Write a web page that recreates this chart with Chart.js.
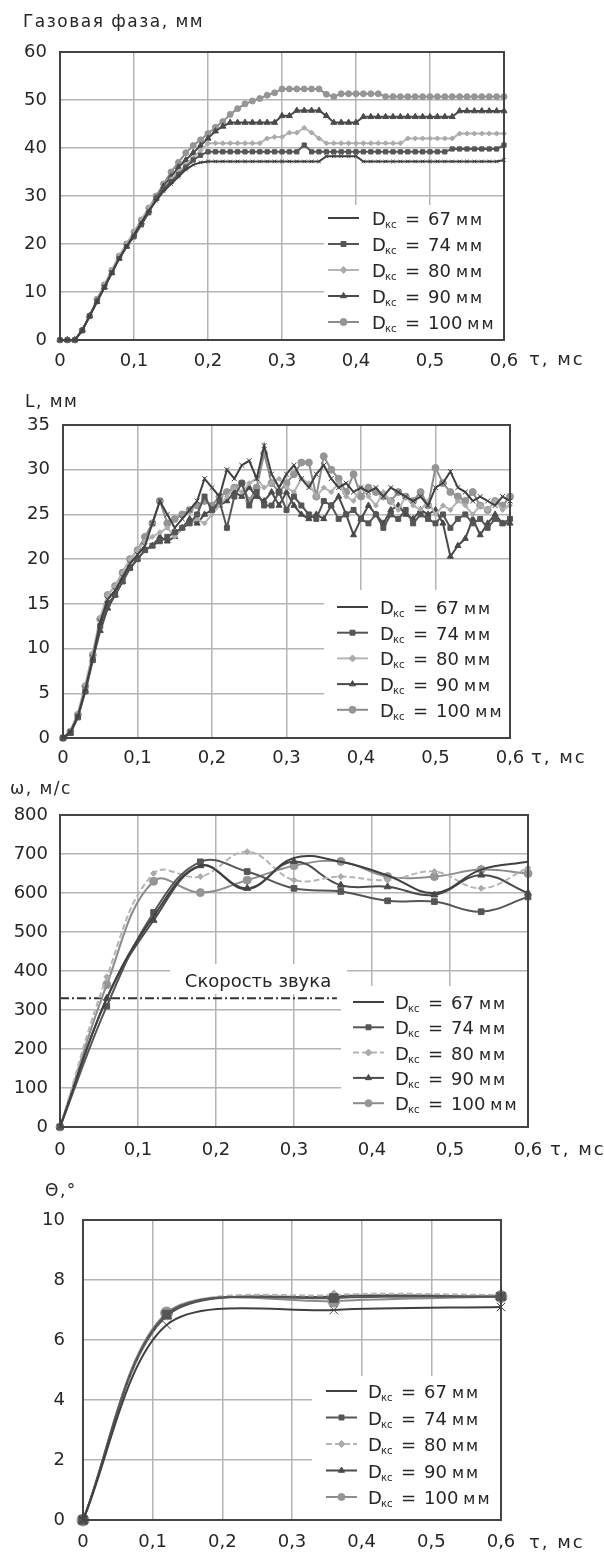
<!DOCTYPE html>
<html>
<head>
<meta charset="utf-8">
<script src="https://cdn.jsdelivr.net/npm/chart.js@4/dist/chart.umd.min.js"></script>
<style>
  body { margin: 0; background: #fff; width: 604px; height: 1557px; position: relative; overflow: hidden; }
  canvas { position: absolute; left: 0; }
</style>
</head>
<body>
<canvas id="cGas" width="604" height="385" style="top:0px"></canvas>
<canvas id="cLen" width="604" height="390" style="top:385px"></canvas>
<canvas id="cOmega" width="604" height="395" style="top:775px"></canvas>
<canvas id="cTheta" width="604" height="387" style="top:1170px"></canvas>
<script>
// --- data ---
const diameters = ['67', '74', '80', '90', '100'];

const tauTicks = [0, 0.1, 0.2, 0.3, 0.4, 0.5, 0.6];
const tauTickLabels = ['0', '0,1', '0,2', '0,3', '0,4', '0,5', '0,6'];

const gasTicks = [0, 10, 20, 30, 40, 50, 60];
const lenTicks = [0, 5, 10, 15, 20, 25, 30, 35];
const omegaTicks = [0, 100, 200, 300, 400, 500, 600, 700, 800];
const thetaTicks = [0, 2, 4, 6, 8, 10];

// time steps of the two upper panels, ms
const tauFine = [0, 0.01, 0.02, 0.03, 0.04, 0.05, 0.06, 0.07, 0.08, 0.09,
  0.1, 0.11, 0.12, 0.13, 0.14, 0.15, 0.16, 0.17, 0.18, 0.19,
  0.2, 0.21, 0.22, 0.23, 0.24, 0.25, 0.26, 0.27, 0.28, 0.29,
  0.3, 0.31, 0.32, 0.33, 0.34, 0.35, 0.36, 0.37, 0.38, 0.39,
  0.4, 0.41, 0.42, 0.43, 0.44, 0.45, 0.46, 0.47, 0.48, 0.49,
  0.5, 0.51, 0.52, 0.53, 0.54, 0.55, 0.56, 0.57, 0.58, 0.59, 0.6];

// panel 1: gas phase, mm
const gas67 = [0, 0, 0, 2, 5, 8, 11, 14, 17, 19.5, 22, 24.5, 27,
  29, 31, 32.5, 34, 35.5, 36.5, 37,
  37.2, 37.2, 37.2, 37.2, 37.2, 37.2, 37.2, 37.2, 37.2, 37.2, 37.2, 37.2, 37.2, 37.2, 37.2, 37.2,
  38.3, 38.3, 38.3, 38.3, 38.3,
  37.2, 37.2, 37.2, 37.2, 37.2, 37.2, 37.2, 37.2, 37.2, 37.2, 37.2, 37.2, 37.2, 37.2, 37.2, 37.2, 37.2, 37.2, 37.2, 37.5];
const gas74 = [0, 0, 0, 2, 5, 8, 11, 14, 17, 19.5, 21.5, 24, 26.5,
  29.5, 31.5, 33, 34.5, 36, 37.5, 38.5,
  39.2, 39.2, 39.2, 39.2, 39.2, 39.2, 39.2, 39.2, 39.2, 39.2, 39.2, 39.2, 39.2,
  40.6,
  39.2, 39.2, 39.2, 39.2, 39.2, 39.2, 39.2, 39.2, 39.2, 39.2, 39.2, 39.2, 39.2, 39.2, 39.2, 39.2, 39.2, 39.2, 39.2,
  39.8, 39.8, 39.8, 39.8, 39.8, 39.8, 39.8,
  40.6];
const gas80 = [0, 0, 0, 2, 5, 8, 11.5, 14.5, 17.5, 20, 22.5, 25, 27.5,
  29.5, 31.5, 33.5, 35, 36.5, 38, 39.5, 41,
  41, 41, 41, 41, 41, 41, 41,
  42, 42.3, 42.3, 43.2, 43.2, 44.2, 43.2, 42,
  41, 41, 41, 41, 41, 41, 41, 41, 41, 41, 41,
  42, 42, 42, 42, 42, 42, 42,
  43, 43, 43, 43, 43, 43, 43];
const gas90 = [0, 0, 0, 2, 5, 8, 11, 14, 17, 19.5, 22, 24.5, 27,
  29.5, 32, 34, 36, 37.5, 39, 40.5, 42, 43.5, 44.5, 45.3,
  45.3, 45.3, 45.3, 45.3, 45.3, 45.3,
  46.7, 46.7, 47.8, 47.8, 47.8, 47.8, 46.7,
  45.3, 45.3, 45.3, 45.3,
  46.5, 46.5, 46.5, 46.5, 46.5, 46.5, 46.5, 46.5, 46.5, 46.5, 46.5, 46.5, 46.5,
  47.7, 47.7, 47.7, 47.7, 47.7, 47.7, 47.7];
const gas100 = [0, 0, 0, 2, 5, 8.5, 11.5, 14.5, 17.5, 20, 22.5, 25, 27.5,
  30, 32.5, 35, 37, 39, 40.5, 41.7, 43, 44.3, 45.5, 47, 48.2, 49.2, 49.8, 50.3, 51, 51.5,
  52.3, 52.3, 52.3, 52.3, 52.3, 52.3,
  51.2, 50.7,
  51.3, 51.3, 51.3, 51.3, 51.3, 51.3,
  50.7, 50.7, 50.7, 50.7, 50.7, 50.7, 50.7, 50.7, 50.7, 50.7, 50.7, 50.7, 50.7, 50.7, 50.7, 50.7, 50.7];

// panel 2: L, mm
const len67 = [0, 0.7, 2.5, 5.5, 9, 13, 15.5, 16.5, 18, 19.5, 20.5, 21.5,
  24, 26.5, 25, 23.5, 24.5, 25.5, 26.5, 29, 28, 27,
  30, 29, 30.5, 31, 29, 32.7, 29.5, 28, 29.5, 30.5,
  29, 28, 29.5, 30.5, 29, 28, 28.5, 27.5, 28, 27.5,
  28, 27, 28, 27.5, 27, 26.5, 27, 26, 28, 28.5,
  29.8, 28, 27.5, 26.5, 27, 26.5, 26, 27, 26.5];
const len74 = [0, 0.6, 2.3, 5.2, 8.7, 12.5, 15, 16, 17.5, 19, 20, 21,
  21.5, 22, 22.5, 23, 23.5, 24, 25, 27, 25.5, 26.5,
  23.5, 27, 28.5, 26, 27.5, 26, 26, 27.5, 25.5, 27,
  26, 25, 24.5, 26.5, 26, 24.5, 25, 25.5, 24.5, 24,
  25, 23.5, 25, 24.5, 25.5, 24, 25, 24.5, 24, 25,
  23.5, 24.5, 25, 24, 24.5, 23.5, 24.5, 24, 24.5];
const len80 = [0, 0.8, 2.8, 6, 9.5, 13.5, 16, 17, 18.5, 20, 21, 22,
  22.5, 23, 23.5, 22.5, 23.5, 24, 24.5, 24, 25, 26,
  27, 28, 27.5, 28.5, 29, 28, 28.5, 29, 28, 27.5,
  29, 28.5, 27, 28, 27.5, 28.5, 27, 26.5, 28, 27,
  26, 27.5, 26.5, 25.5, 27, 26, 25.5, 26.5, 25, 26,
  25.5, 26.5, 26, 25, 26, 25.5, 26.5, 25.5, 26];
const len90 = [0, 0.5, 2.4, 5.3, 8.8, 12, 14.5, 16, 17.5, 19, 20, 21,
  21.5, 22.5, 22, 22.5, 23.5, 24.5, 24, 25, 25.5, 26,
  26.5, 27.5, 27, 28, 27, 26.5, 27.5, 26, 27.5, 26,
  25, 24.5, 25, 24.5, 26, 27, 25, 22.7, 24.5, 26,
  25, 24, 25.5, 26, 25, 24.5, 25.5, 25, 25.5, 24,
  20.3, 21.5, 22.3, 24.5, 22.7, 24, 25, 24, 24];
const len100 = [0, 0.7, 2.6, 5.8, 9.3, 13.3, 16, 17, 18.5, 20, 21, 22.5,
  24, 26.5, 24, 24.5, 25, 25.5, 26, 26.5, 26, 27,
  27.5, 28, 28.5, 26.5, 28, 31.8, 28.5, 27.5, 28.5, 29.5,
  30.8, 30.8, 27, 31.5, 30, 29, 27.5, 29.5, 27, 28,
  27.5, 27, 26.5, 27.5, 27, 26.5, 27.5, 26, 30.2, 28.5,
  27.5, 27, 26.5, 27.5, 26, 25.5, 26.5, 26, 27];

// panel 3: omega, m/s
const tauOmega = [0, 0.06, 0.12, 0.18, 0.24, 0.3, 0.36, 0.42, 0.48, 0.54, 0.6];
const omega67 = [0, 330, 540, 670, 610, 690, 680, 645, 600, 660, 680];
const omega74 = [0, 310, 550, 680, 655, 612, 604, 580, 578, 552, 590];
const omega80 = [0, 385, 650, 642, 706, 633, 642, 633, 655, 612, 664];
const omega90 = [0, 330, 530, 670, 612, 681, 620, 616, 595, 646, 600];
const omega100 = [0, 365, 630, 601, 633, 670, 681, 642, 642, 660, 650];
const soundSpeed = 330;
const soundTau = [0, 0.355];

// panel 4: theta, deg
const tauTheta = [0, 0.12, 0.36, 0.6];
const theta67 = [0, 6.5, 7.0, 7.1];
const theta74 = [0, 6.85, 7.4, 7.45];
const theta80 = [0, 6.85, 7.5, 7.5];
const theta90 = [0, 6.8, 7.45, 7.45];
const theta100 = [0, 6.9, 7.3, 7.45];

// --- styles ---
const lineColors = ['#404040', '#555555', '#b5b5b5', '#4a4a4a', '#8c8c8c'];
const markerFills = ['#404040', '#555555', '#ababab', '#4a4a4a', '#959595'];
const markerStyles = ['crossRot', 'rect', 'rectRot', 'triangle', 'circle'];
const legendMarks = [false, true, true, true, true];
const FONT = '"DejaVu Sans", "Liberation Sans", sans-serif';
const TEXT = '#262626';

function makeSeries(tau, vals, k, st) {
  return {
    label: 'Dкс = ' + diameters[k] + ' мм',
    data: tau.map((t, i) => ({ x: t, y: vals[i] })),
    borderColor: lineColors[k],
    borderWidth: 2,
    borderDash: (st.dashed && k === 2) ? [6, 3] : [],
    pointStyle: markerStyles[k],
    pointRadius: st.radius[k],
    pointBackgroundColor: markerFills[k],
    pointBorderColor: markerFills[k],
    pointBorderWidth: 1,
    tension: st.tension,
    clip: false
  };
}

const decorPlugin = {
  id: 'decor',
  beforeDatasetsDraw(chart, args, o) {
    const a = chart.chartArea, ctx = chart.ctx;
    ctx.save();
    ctx.fillStyle = '#fff';
    ctx.fillRect(o.legend.x, o.legend.y, a.right - o.legend.x, a.bottom - o.legend.y);
    if (o.note) ctx.fillRect(o.note.x0, o.note.y0, o.note.x1 - o.note.x0, o.note.y1 - o.note.y0);
    ctx.restore();
  },
  afterDatasetsDraw(chart, args, o) {
    const a = chart.chartArea, ctx = chart.ctx;
    ctx.save();
    ctx.strokeStyle = '#444444';
    ctx.lineWidth = 2;
    ctx.strokeRect(a.left, a.top, a.right - a.left, a.bottom - a.top);

    // legend
    const L = o.legend;
    ctx.textAlign = 'left';
    ctx.textBaseline = 'alphabetic';
    diameters.forEach((d, k) => {
      const ds = chart.data.datasets[k];
      const y = L.rowY + k * L.step;
      ctx.setLineDash(ds.borderDash);
      ctx.strokeStyle = ds.borderColor;
      ctx.lineWidth = 2;
      ctx.beginPath();
      ctx.moveTo(L.lineX, y);
      ctx.lineTo(L.lineX + 31, y);
      ctx.stroke();
      ctx.setLineDash([]);
      if (legendMarks[k]) {
        ctx.fillStyle = ds.pointBackgroundColor;
        ctx.strokeStyle = ds.pointBorderColor;
        ctx.lineWidth = 1;
        Chart.helpers.drawPoint(ctx, { pointStyle: ds.pointStyle, radius: 3.5, rotation: 0, borderWidth: 1 }, L.lineX + 15.5, y);
      }
      ctx.fillStyle = TEXT;
      ctx.font = '18px ' + FONT;
      ctx.fillText('D', L.textX, y + 7);
      ctx.font = '10px ' + FONT;
      ctx.fillText('кс', L.textX + 13, y + 10);
      ctx.font = '18px ' + FONT;
      ctx.fillText('=', L.textX + 33, y + 7);
      ctx.fillText(d, L.textX + 56, y + 7);
      const w = ctx.measureText(d).width;
      ctx.font = '16px ' + FONT;
      ctx.letterSpacing = '2px';
      ctx.fillText('мм', L.textX + 61 + w, y + 7);
      ctx.letterSpacing = '0px';
    });

    // axis captions
    ctx.fillStyle = TEXT;
    ctx.textBaseline = 'middle';
    ctx.font = '17px ' + FONT;
    ctx.letterSpacing = '1.5px';
    ctx.fillText(o.title.text, o.title.x, o.title.y);
    ctx.font = '18px ' + FONT;
    ctx.letterSpacing = '2px';
    ctx.fillText('τ, мс', o.unit.x, o.unit.y);
    ctx.letterSpacing = '0px';
    if (o.note) {
      ctx.textAlign = 'center';
      ctx.font = '18px ' + FONT;
      ctx.fillText(o.note.text, o.note.cx, o.note.cy);
    }
    ctx.restore();
  }
};
Chart.register(decorPlugin);

function panelOptions(p) {
  const tickFont = { family: FONT, size: 18 };
  return {
    responsive: false,
    animation: false,
    devicePixelRatio: 1,
    layout: { padding: p.padding },
    plugins: {
      legend: { display: false },
      tooltip: { enabled: false },
      title: { display: false },
      decor: p.decor
    },
    scales: {
      x: {
        type: 'linear', min: 0, max: 0.6,
        afterFit: s => { s.height = 30; },
        afterBuildTicks: s => { s.ticks = tauTicks.map(v => ({ value: v })); },
        ticks: { callback: (v, i) => tauTickLabels[i], font: tickFont, color: TEXT, padding: p.xPad, maxRotation: 0, autoSkip: false },
        grid: { color: '#b4b4b4', lineWidth: 1.5, drawTicks: false },
        border: { display: false }
      },
      y: {
        type: 'linear', min: 0, max: p.yTicks[p.yTicks.length - 1],
        afterFit: s => { s.width = p.yWidth; },
        afterBuildTicks: s => { s.ticks = p.yTicks.map(v => ({ value: v })); },
        ticks: { callback: v => String(v), font: tickFont, color: TEXT, padding: p.yPad, autoSkip: false },
        grid: { color: '#b4b4b4', lineWidth: 1.5, drawTicks: false },
        border: { display: false }
      }
    }
  };
}

// panel 1
const gasStyle = { radius: [2.5, 3, 2.5, 3.5, 3], tension: 0, dashed: false };
new Chart(document.getElementById('cGas'), {
  type: 'line',
  data: { datasets: [gas67, gas74, gas80, gas90, gas100].map((v, k) => makeSeries(tauFine, v, k, gasStyle)) },
  options: panelOptions({
    padding: { left: 0, right: 100, top: 52, bottom: 15 },
    yWidth: 60, yPad: 13, xPad: 11, yTicks: gasTicks,
    decor: {
      title: { text: 'Газовая фаза, мм', x: 23, y: 23 },
      unit: { x: 529, y: 360 },
      legend: { x: 324, y: 205, rowY: 218, step: 26, lineX: 328, textX: 372 }
    }
  })
});

// panel 2
const lenStyle = { radius: [3.5, 3.5, 2.5, 3.5, 3.5], tension: 0, dashed: false };
new Chart(document.getElementById('cLen'), {
  type: 'line',
  data: { datasets: [len67, len74, len80, len90, len100].map((v, k) => makeSeries(tauFine, v, k, lenStyle)) },
  options: panelOptions({
    padding: { left: 0, right: 94, top: 40, bottom: 7 },
    yWidth: 63, yPad: 13, xPad: 10, yTicks: lenTicks,
    decor: {
      title: { text: 'L, мм', x: 25, y: 18 },
      unit: { x: 531, y: 373 },
      legend: { x: 324, y: 205, rowY: 222, step: 25.7, lineX: 337, textX: 380 }
    }
  })
});

// panel 3
const omegaStyle = { radius: [0, 4, 3, 4, 4], tension: 0.4, dashed: true };
const omegaSets = [omega67, omega74, omega80, omega90, omega100].map((v, k) => makeSeries(tauOmega, v, k, omegaStyle));
omegaSets.push({
  label: 'Скорость звука',
  data: soundTau.map(t => ({ x: t, y: soundSpeed })),
  borderColor: '#333333', borderWidth: 2, borderDash: [9, 3, 2, 3],
  pointRadius: 0, tension: 0
});
new Chart(document.getElementById('cOmega'), {
  type: 'line',
  data: { datasets: omegaSets },
  options: panelOptions({
    padding: { left: 0, right: 76, top: 40, bottom: 13 },
    yWidth: 60, yPad: 12, xPad: 13, yTicks: omegaTicks,
    decor: {
      title: { text: 'ω, м/с', x: 10, y: 15 },
      unit: { x: 550, y: 375 },
      legend: { x: 341, y: 211, rowY: 227, step: 25.3, lineX: 353, textX: 395 },
      note: { text: 'Скорость звука', cx: 258, cy: 207, x0: 170, x1: 347, y0: 189, y1: 219 }
    }
  })
});

// panel 4
const thetaStyle = { radius: [6, 6, 5, 6, 6], tension: 0.3, dashed: true };
new Chart(document.getElementById('cTheta'), {
  type: 'line',
  data: { datasets: [theta67, theta74, theta80, theta90, theta100].map((v, k) => makeSeries(tauTheta, v, k, thetaStyle)) },
  options: panelOptions({
    padding: { left: 0, right: 103, top: 50, bottom: 7 },
    yWidth: 83, yPad: 18, xPad: 12, yTicks: thetaTicks,
    decor: {
      title: { text: 'Θ,°', x: 45, y: 22 },
      unit: { x: 529, y: 373 },
      legend: { x: 312, y: 206, rowY: 221, step: 26.5, lineX: 326, textX: 368 }
    }
  })
});
</script>
</body>
</html>
